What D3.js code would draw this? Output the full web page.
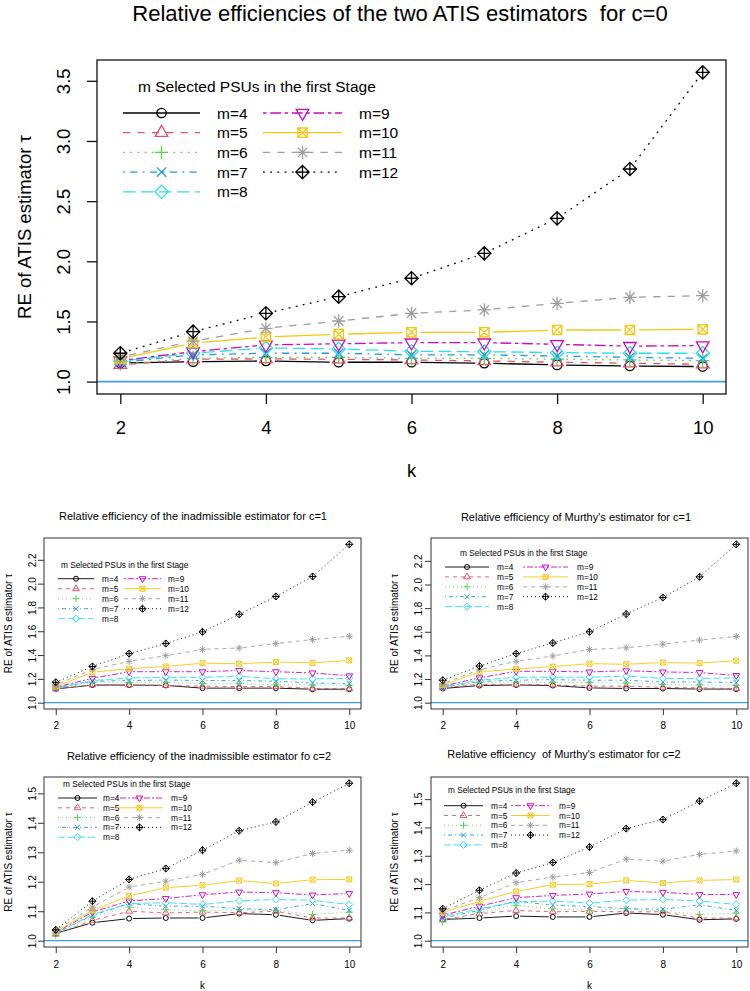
<!DOCTYPE html>
<html><head><meta charset="utf-8">
<script src="https://cdn.jsdelivr.net/npm/d3@7/dist/d3.min.js"></script>
<style>body{margin:0;background:#fff}svg{display:block}text{font-family:"Liberation Sans",Arial,Helvetica,sans-serif;fill:#000;white-space:pre}</style>
</head><body><svg id="chart" width="750" height="991"></svg>
<script>
// ---------------- data ----------------
const kValues = [2, 3, 4, 5, 6, 7, 8, 9, 10];
const seriesNames = ["m=4", "m=5", "m=6", "m=7", "m=8", "m=9", "m=10", "m=11", "m=12"];
const xTicks = [2, 4, 6, 8, 10];
const yTicksMain = [1.0, 1.5, 2.0, 2.5, 3.0, 3.5];
const yTicksC1 = [1.0, 1.2, 1.4, 1.6, 1.8, 2.0, 2.2];
const yTicksC2 = [1.0, 1.1, 1.2, 1.3, 1.4, 1.5];

// rows: m=4 ... m=12 ; columns: k=2 ... k=10
const reC0 = [
  [1.155, 1.166, 1.172, 1.161, 1.161, 1.153, 1.139, 1.130, 1.125],
  [1.140, 1.186, 1.189, 1.186, 1.180, 1.172, 1.161, 1.153, 1.144],
  [1.145, 1.194, 1.202, 1.202, 1.194, 1.194, 1.186, 1.180, 1.175],
  [1.160, 1.222, 1.236, 1.236, 1.222, 1.222, 1.213, 1.202, 1.194],
  [1.170, 1.236, 1.280, 1.272, 1.252, 1.249, 1.241, 1.236, 1.236],
  [1.175, 1.249, 1.305, 1.315, 1.324, 1.324, 1.310, 1.295, 1.300],
  [1.190, 1.319, 1.371, 1.394, 1.410, 1.410, 1.429, 1.429, 1.435],
  [1.205, 1.336, 1.443, 1.504, 1.568, 1.596, 1.651, 1.701, 1.714],
  [1.236, 1.415, 1.568, 1.706, 1.859, 2.066, 2.357, 2.767, 3.570]
];
const reC1Inadmissible = [
  [1.115, 1.148, 1.148, 1.145, 1.122, 1.122, 1.122, 1.113, 1.113],
  [1.115, 1.150, 1.148, 1.145, 1.138, 1.135, 1.135, 1.120, 1.117],
  [1.120, 1.170, 1.170, 1.170, 1.160, 1.160, 1.150, 1.148, 1.145],
  [1.120, 1.180, 1.186, 1.190, 1.186, 1.186, 1.180, 1.165, 1.160],
  [1.125, 1.186, 1.208, 1.213, 1.213, 1.222, 1.200, 1.200, 1.205],
  [1.130, 1.205, 1.260, 1.260, 1.260, 1.270, 1.260, 1.250, 1.225],
  [1.135, 1.256, 1.285, 1.304, 1.332, 1.327, 1.341, 1.335, 1.355],
  [1.150, 1.280, 1.347, 1.395, 1.448, 1.459, 1.497, 1.530, 1.558],
  [1.171, 1.304, 1.412, 1.497, 1.595, 1.742, 1.892, 2.060, 2.330]
];
const reC1Murthy = [
  [1.120, 1.145, 1.150, 1.145, 1.125, 1.120, 1.120, 1.115, 1.115],
  [1.125, 1.155, 1.155, 1.150, 1.140, 1.140, 1.130, 1.125, 1.120],
  [1.125, 1.170, 1.175, 1.170, 1.170, 1.165, 1.155, 1.150, 1.145],
  [1.130, 1.180, 1.190, 1.195, 1.190, 1.190, 1.175, 1.175, 1.170],
  [1.135, 1.190, 1.215, 1.215, 1.215, 1.225, 1.205, 1.205, 1.210],
  [1.140, 1.210, 1.265, 1.265, 1.260, 1.270, 1.260, 1.255, 1.230],
  [1.150, 1.260, 1.285, 1.305, 1.330, 1.325, 1.340, 1.335, 1.355],
  [1.160, 1.280, 1.350, 1.395, 1.450, 1.465, 1.495, 1.530, 1.560],
  [1.190, 1.310, 1.415, 1.505, 1.600, 1.750, 1.890, 2.065, 2.340]
];
const reC2Inadmissible = [
  [1.025, 1.061, 1.075, 1.077, 1.077, 1.092, 1.088, 1.069, 1.075],
  [1.022, 1.069, 1.100, 1.094, 1.097, 1.095, 1.100, 1.077, 1.077],
  [1.018, 1.080, 1.114, 1.105, 1.101, 1.105, 1.103, 1.089, 1.097],
  [1.025, 1.086, 1.126, 1.117, 1.117, 1.109, 1.105, 1.126, 1.103],
  [1.025, 1.089, 1.126, 1.129, 1.123, 1.135, 1.140, 1.137, 1.123],
  [1.028, 1.097, 1.135, 1.143, 1.156, 1.165, 1.163, 1.155, 1.160],
  [1.030, 1.103, 1.152, 1.180, 1.188, 1.204, 1.194, 1.207, 1.208],
  [1.035, 1.114, 1.182, 1.202, 1.225, 1.273, 1.265, 1.296, 1.307],
  [1.037, 1.134, 1.208, 1.245, 1.307, 1.373, 1.403, 1.470, 1.534]
];
const reC2Murthy = [
  [1.075, 1.080, 1.087, 1.084, 1.084, 1.098, 1.092, 1.074, 1.077],
  [1.075, 1.096, 1.107, 1.102, 1.104, 1.102, 1.102, 1.080, 1.080],
  [1.066, 1.100, 1.125, 1.113, 1.107, 1.113, 1.105, 1.093, 1.097],
  [1.080, 1.107, 1.140, 1.125, 1.121, 1.113, 1.111, 1.127, 1.107],
  [1.085, 1.113, 1.137, 1.140, 1.133, 1.143, 1.146, 1.140, 1.128],
  [1.090, 1.122, 1.152, 1.160, 1.165, 1.174, 1.171, 1.163, 1.163],
  [1.100, 1.139, 1.174, 1.198, 1.200, 1.213, 1.204, 1.213, 1.216],
  [1.105, 1.152, 1.205, 1.225, 1.241, 1.288, 1.281, 1.305, 1.317],
  [1.113, 1.178, 1.239, 1.276, 1.331, 1.396, 1.428, 1.493, 1.556]
];

// ---------------- styles ----------------
const seriesColors = ["#000000", "#DF536B", "#61D04F", "#2297E6", "#28E2E5", "#CD0BBC", "#F5C710", "#9E9E9E", "#000000"];
const seriesLty = ["solid", "dashed", "dotted", "dotdash", "longdash", "twodash", "solid", "dashed", "dotted"];
const seriesPch = [1, 2, 3, 4, 5, 6, 7, 8, 9];
const refLineColor = "#3f9fe6";
const legendTitle = "m Selected PSUs in the first Stage";
const yAxisTitle = "RE of ATIS estimator \u03c4";

const svg = d3.select("#chart");

function dashFor(lty, s) {
  const p = {solid: null, dashed: [4, 4], dotted: [1, 3], dotdash: [1, 3, 4, 3], longdash: [7, 3], twodash: [2, 2, 6, 2]}[lty];
  return p ? p.map(v => v * s).join(",") : null;
}

function drawSymbol(g, pch, cx, cy, R, col, sw) {
  const p = d3.path();
  const seg = (x1, y1, x2, y2) => { p.moveTo(cx + x1, cy + y1); p.lineTo(cx + x2, cy + y2); };
  const s2 = Math.SQRT2 * R;
  const plus = (h) => { seg(-h, 0, h, 0); seg(0, -h, 0, h); };
  const cross = (h) => { seg(-h, -h, h, h); seg(-h, h, h, -h); };
  const diamond = (h) => { p.moveTo(cx, cy - h); p.lineTo(cx + h, cy); p.lineTo(cx, cy + h); p.lineTo(cx - h, cy); p.closePath(); };
  const t0 = 1.5551 * R, t1 = 1.3468 * R, t2 = 0.7776 * R;
  switch (pch) {
    case 1: p.moveTo(cx + R, cy); p.arc(cx, cy, R, 0, 2 * Math.PI); break;
    case 2: p.moveTo(cx, cy - t0); p.lineTo(cx + t1, cy + t2); p.lineTo(cx - t1, cy + t2); p.closePath(); break;
    case 3: plus(s2); break;
    case 4: cross(R); break;
    case 5: diamond(s2); break;
    case 6: p.moveTo(cx, cy + t0); p.lineTo(cx + t1, cy - t2); p.lineTo(cx - t1, cy - t2); p.closePath(); break;
    case 7: p.rect(cx - R, cy - R, 2 * R, 2 * R); cross(R); break;
    case 8: cross(R); plus(s2); break;
    case 9: diamond(s2); plus(s2); break;
  }
  g.append("path").attr("d", p.toString()).attr("fill", "none").attr("stroke", col).attr("stroke-width", sw);
}

function panel(cfg) {
  const {data, box} = cfg;
  const g = svg.append("g");
  const xr = kValues[kValues.length - 1] - kValues[0];
  const x = d3.scaleLinear().domain([kValues[0] - 0.04 * xr, kValues[kValues.length - 1] + 0.04 * xr]).range([box.l, box.r]);
  const ymax = d3.max(data, r => d3.max(r)), ymin = 1, yr = ymax - ymin;
  const y = d3.scaleLinear().domain([ymin - 0.04 * yr, ymax + 0.04 * yr]).range([box.b, box.t]);

  // title
  g.append("text").attr("x", cfg.title.x).attr("y", cfg.title.y).attr("text-anchor", "middle")
    .attr("dominant-baseline", "central").attr("xml:space", "preserve")
    .style("font-size", cfg.title.size + "px").text(cfg.title.text);

  // reference line at 1
  g.append("line").attr("x1", box.l).attr("x2", box.r).attr("y1", y(1)).attr("y2", y(1))
    .attr("stroke", refLineColor).attr("stroke-width", cfg.refW);

  // series
  data.forEach((vals, i) => {
    const col = seriesColors[i];
    const pts = vals.map((v, j) => [x(kValues[j]), y(v)]);
    const lg = g.append("g");
    for (let j = 0; j < pts.length - 1; j++) {
      const [x1, y1] = pts[j], [x2, y2] = pts[j + 1];
      const d = Math.hypot(x2 - x1, y2 - y1);
      if (d <= 2 * cfg.gap) continue;
      const ux = (x2 - x1) / d, uy = (y2 - y1) / d;
      lg.append("line").attr("x1", x1 + ux * cfg.gap).attr("y1", y1 + uy * cfg.gap)
        .attr("x2", x2 - ux * cfg.gap).attr("y2", y2 - uy * cfg.gap)
        .attr("stroke", col).attr("stroke-width", cfg.lw)
        .attr("stroke-dasharray", dashFor(seriesLty[i], cfg.dash));
    }
    pts.forEach(([px, py]) => drawSymbol(lg, seriesPch[i], px, py, cfg.R, col, cfg.sw));
  });

  // box
  g.append("rect").attr("x", box.l).attr("y", box.t).attr("width", box.r - box.l).attr("height", box.b - box.t)
    .attr("fill", "none").attr("stroke", cfg.boxColor).attr("stroke-width", cfg.boxW);

  // x axis
  const gx = g.append("g").attr("transform", `translate(0,${box.b})`)
    .call(d3.axisBottom(x).tickValues(xTicks).tickSize(cfg.tick).tickSizeOuter(0).tickFormat(d3.format("d")));
  gx.select(".domain").remove();
  gx.selectAll(".tick line").attr("stroke", cfg.boxColor).attr("stroke-width", cfg.boxW);
  gx.selectAll(".tick text").attr("y", cfg.xLabY - box.b).attr("dy", null).attr("dominant-baseline", "central")
    .attr("fill", "#000").style("font-size", cfg.tickFont + "px");
  gx.attr("font-family", null).attr("font-size", null);

  // y axis
  const gy = g.append("g").attr("transform", `translate(${box.l},0)`)
    .call(d3.axisLeft(y).tickValues(cfg.yTicks).tickSize(cfg.tick).tickSizeOuter(0).tickFormat(d3.format(".1f")));
  gy.select(".domain").remove();
  gy.selectAll(".tick line").attr("stroke", cfg.boxColor).attr("stroke-width", cfg.boxW);
  gy.selectAll(".tick text").attr("x", null).attr("dy", null).attr("text-anchor", "middle")
    .attr("dominant-baseline", "central").attr("transform", `translate(${cfg.yLabX - box.l},0) rotate(-90)`)
    .attr("fill", "#000").style("font-size", cfg.tickFont + "px");
  gy.attr("font-family", null).attr("font-size", null);

  // axis titles
  if (cfg.kY) {
    g.append("text").attr("x", (box.l + box.r) / 2).attr("y", cfg.kY).attr("text-anchor", "middle")
      .attr("dominant-baseline", "central").style("font-size", cfg.labFont + "px").text("k");
  }
  g.append("text").attr("transform", `translate(${cfg.yTitleX},${(box.t + box.b) / 2}) rotate(-90)`)
    .attr("text-anchor", "middle").attr("dominant-baseline", "central")
    .style("font-size", cfg.labFont + "px").text(yAxisTitle);

  // legend
  const L = cfg.legend;
  const lgd = g.append("g");
  lgd.append("text").attr("x", L.titleX).attr("y", L.titleY).attr("dominant-baseline", "central")
    .style("font-size", L.font + "px").text(legendTitle);
  seriesNames.forEach((name, i) => {
    const col = i < 5 ? 0 : 1, row = i < 5 ? i : i - 5;
    const ry = L.rowY + row * L.rowStep;
    const [x0, x1] = col === 0 ? L.c1 : L.c2;
    const tx = col === 0 ? L.t1 : L.t2;
    lgd.append("line").attr("x1", x0).attr("x2", x1).attr("y1", ry).attr("y2", ry)
      .attr("stroke", seriesColors[i]).attr("stroke-width", cfg.lw)
      .attr("stroke-dasharray", dashFor(seriesLty[i], cfg.dash));
    drawSymbol(lgd, seriesPch[i], (x0 + x1) / 2, ry, cfg.R, seriesColors[i], cfg.sw);
    lgd.append("text").attr("x", tx).attr("y", ry).attr("dominant-baseline", "central")
      .style("font-size", L.font + "px").text(name);
  });
}

const mainStyle = {R: 4.7, lw: 1.3, sw: 1.3, dash: 1.8, gap: 9, tick: 10, boxW: 1.3, boxColor: "#111", refW: 1.8,
  tickFont: 18.5, labFont: 18.5};
const smallStyle = {R: 2.5, lw: 0.9, sw: 1, dash: 1, gap: 4, tick: 6, boxW: 1, boxColor: "#333", refW: 1.3,
  tickFont: 10, labFont: 10};

panel(Object.assign({}, mainStyle, {
  data: reC0, box: {l: 97, r: 726, t: 60, b: 394}, yTicks: yTicksMain,
  title: {text: "Relative efficiencies of the two ATIS estimators  for c=0", x: 400, y: 13, size: 22},
  xLabY: 427, yLabX: 63, yTitleX: 24, kY: 470,
  legend: {font: 15.5, titleX: 138, titleY: 86, rowY: 113, rowStep: 19.7, c1: [123, 200], t1: 217, c2: [263, 342], t2: 359}
}));
panel(Object.assign({}, smallStyle, {
  data: reC1Inadmissible, box: {l: 44, r: 361, t: 538, b: 709}, yTicks: yTicksC1,
  title: {text: "Relative efficiency of the inadmissible estimator for c=1", x: 193, y: 516, size: 11},
  xLabY: 725, yLabX: 32, yTitleX: 8, kY: null,
  legend: {font: 8.3, titleX: 61, titleY: 565, rowY: 578.7, rowStep: 10, c1: [58, 94], t1: 102, c2: [124, 161], t2: 168}
}));
panel(Object.assign({}, smallStyle, {
  data: reC1Murthy, box: {l: 431, r: 748, t: 538, b: 709}, yTicks: yTicksC1,
  title: {text: "Relative efficiency of Murthy's estimator for c=1", x: 576, y: 517, size: 11},
  xLabY: 725, yLabX: 418, yTitleX: 394, kY: null,
  legend: {font: 8.3, titleX: 460, titleY: 552.7, rowY: 567, rowStep: 9.9, c1: [445, 489], t1: 497, c2: [523, 568], t2: 577}
}));
panel(Object.assign({}, smallStyle, {
  data: reC2Inadmissible, box: {l: 44, r: 361, t: 777, b: 947}, yTicks: yTicksC2,
  title: {text: "Relative efficiency of the inadmissible estimator fo c=2", x: 199, y: 756, size: 11},
  xLabY: 964, yLabX: 32, yTitleX: 8, kY: 985,
  legend: {font: 8.3, titleX: 63, titleY: 784, rowY: 798, rowStep: 9.8, c1: [58, 97], t1: 103, c2: [116, 163], t2: 171}
}));
panel(Object.assign({}, smallStyle, {
  data: reC2Murthy, box: {l: 431, r: 748, t: 777, b: 947}, yTicks: yTicksC2,
  title: {text: "Relative efficiency  of Murthy's estimator for c=2", x: 564, y: 754, size: 11},
  xLabY: 964, yLabX: 418, yTitleX: 394, kY: 985,
  legend: {font: 8.3, titleX: 448, titleY: 790, rowY: 805.7, rowStep: 9.8, c1: [444, 483], t1: 491, c2: [511, 550], t2: 559}
}));
</script></body></html>
